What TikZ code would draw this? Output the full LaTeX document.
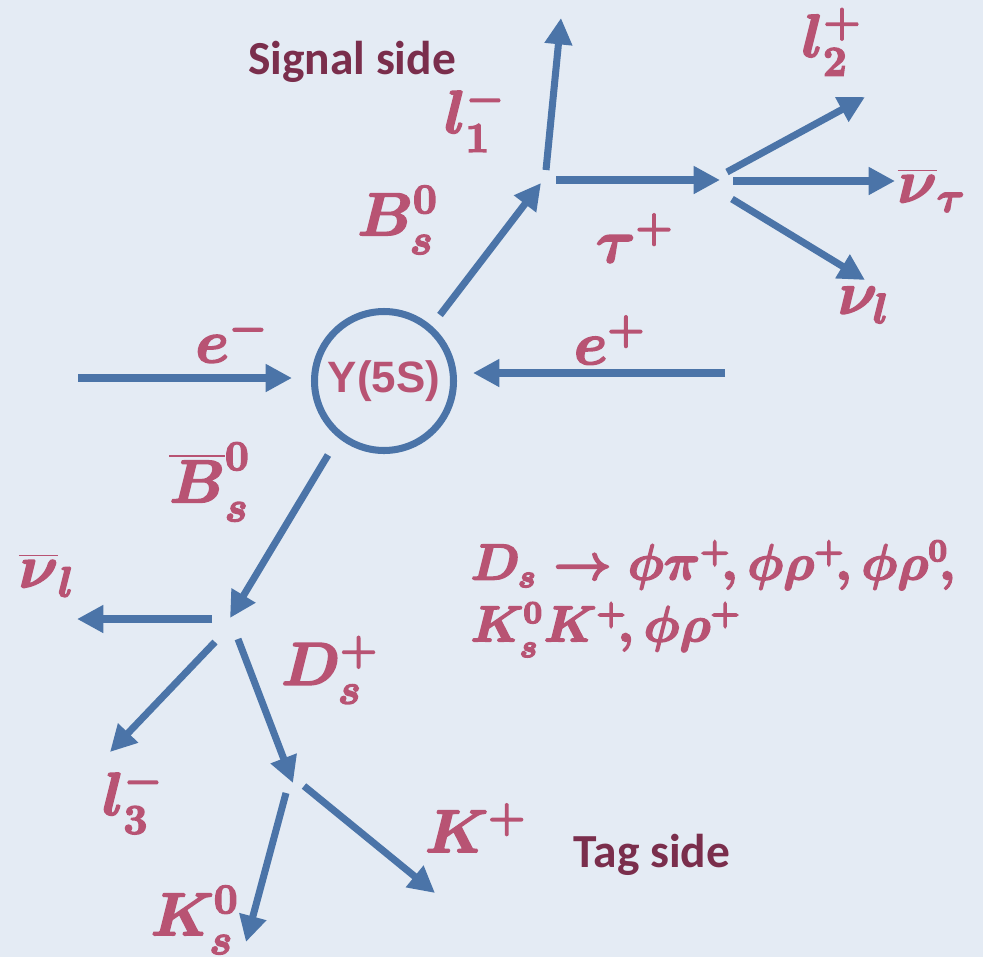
\documentclass[tikz,border=0pt]{standalone}
\usepackage[no-math]{fontspec}
\setsansfont{Carlito}
\newfontfamily\arialfont{Liberation Sans}
\usetikzlibrary{arrows.meta}
\definecolor{bgc}{HTML}{E4EBF4}
\definecolor{arrowc}{HTML}{4B74A8}
\definecolor{pinkc}{HTML}{B85373}
\definecolor{maroonc}{HTML}{7A2E4C}
% heavier strokes for the particle names
\newcommand{\heavy}[1]{\special{pdf:literal direct 2 Tr 0.45 w}#1\special{pdf:literal direct 0 Tr}}
\tikzset{decay/.style={draw=arrowc, line width=2pt, -{Triangle[length=7.5pt, width=7.5pt]}},
  particle/.style={text=pinkc, font=\fontsize{17}{20}\selectfont\boldmath, inner sep=0pt},
  side/.style={text=maroonc, font=\fontsize{13.5}{16}\selectfont\sffamily\bfseries, inner sep=0pt}}

\begin{document}
\begin{tikzpicture}[x=0.1mm, y=-0.1mm]
        \fill[bgc] (0,0) rectangle (983,957);
        \useasboundingbox (0,0) rectangle (983,957);

        \node[draw=arrowc, line width=2pt, circle, minimum size=13.9mm, inner sep=0pt,
          text=pinkc, font=\fontsize{12.5}{15}\selectfont\arialfont\bfseries] (ups) at (384,381) {Υ(5S)};

        % beams
        \coordinate (em0) at (78,378);   \coordinate (em1) at (292,378);
        \coordinate (ep0) at (725,373);  \coordinate (ep1) at (473,373);
        % signal side
        \coordinate (bs0) at (440,315);  \coordinate (bs1) at (541,183);
        \coordinate (la0) at (546,170);  \coordinate (la1) at (561,18);
        \coordinate (ta0) at (556,180);  \coordinate (ta1) at (720,180);
        \coordinate (lb0) at (727,172);  \coordinate (lb1) at (865,97);
        \coordinate (nt0) at (733,181);  \coordinate (nt1) at (895,181);
        \coordinate (nl0) at (732,199);  \coordinate (nl1) at (865,280);
        % tag side
        \coordinate (bb0) at (328,455);  \coordinate (bb1) at (230,618);
        \coordinate (nb0) at (212,619);  \coordinate (nb1) at (77,619);
        \coordinate (lc0) at (215,642);  \coordinate (lc1) at (110,752);
        \coordinate (ds0) at (238,639);  \coordinate (ds1) at (293,783);
        \coordinate (ks0) at (286,793);  \coordinate (ks1) at (246,942);
        \coordinate (kp0) at (304,786);  \coordinate (kp1) at (435,893);

        \draw[decay] (em0) -- (em1);
        \draw[decay] (ep0) -- (ep1);
        \draw[decay] (bs0) -- (bs1);
        \draw[decay] (la0) -- (la1);
        \draw[decay] (ta0) -- (ta1);
        \draw[decay] (lb0) -- (lb1);
        \draw[decay] (nt0) -- (nt1);
        \draw[decay] (nl0) -- (nl1);
        \draw[decay] (bb0) -- (bb1);
        \draw[decay] (nb0) -- (nb1);
        \draw[decay] (lc0) -- (lc1);
        \draw[decay] (ds0) -- (ds1);
        \draw[decay] (ks0) -- (ks1);
        \draw[decay] (kp0) -- (kp1);

        \node[particle] (lem) at (232,338) {\heavy{$e^-$}};
        \node[particle] (lep) at (610,340) {\heavy{$e^+$}};
        \node[particle] (lbs) at (398,220) {\heavy{$B_s^0$}};
        \node[particle] (lla) at (475,118) {\heavy{$l_1^-$}};
        \node[particle] (lta) at (635,238) {\heavy{$\tau^+$}};
        \node[particle] (llb) at (832,42) {\heavy{$l_2^+$}};
        \node[particle] (lnt) at (932,190) {\heavy{$\overline{\nu}_\tau$}};
        \node[particle] (lnl) at (864,305) {\heavy{$\nu_l$}};
        \node[particle] (lbb) at (210,482) {\heavy{$\overline{B}_s^0$}};
        \node[particle] (lnb) at (47,575) {\heavy{$\overline{\nu}_l$}};
        \node[particle] (llc) at (133,800) {\heavy{$l_3^-$}};
        \node[particle] (lds) at (330,670) {\heavy{$D_s^+$}};
        \node[particle] (lks) at (195,920) {\heavy{$K_s^0$}};
        \node[particle] (lkp) at (476,828) {\heavy{$K^+$}};

        \node[particle, anchor=north west, align=left, font=\fontsize{13.5}{17.6}\selectfont\boldmath]
          (modes) at (470,540) {\heavy{$D_s\rightarrow\phi\pi^+\!,\phi\rho^+\!,\phi\rho^0\!,$}\\\heavy{$K_s^0K^+\!,\phi\rho^+$}};

        \node[side] (sig) at (352,62) {Signal side};
        \node[side] (tag) at (652,855) {Tag side};
      \end{tikzpicture}
\end{document}
